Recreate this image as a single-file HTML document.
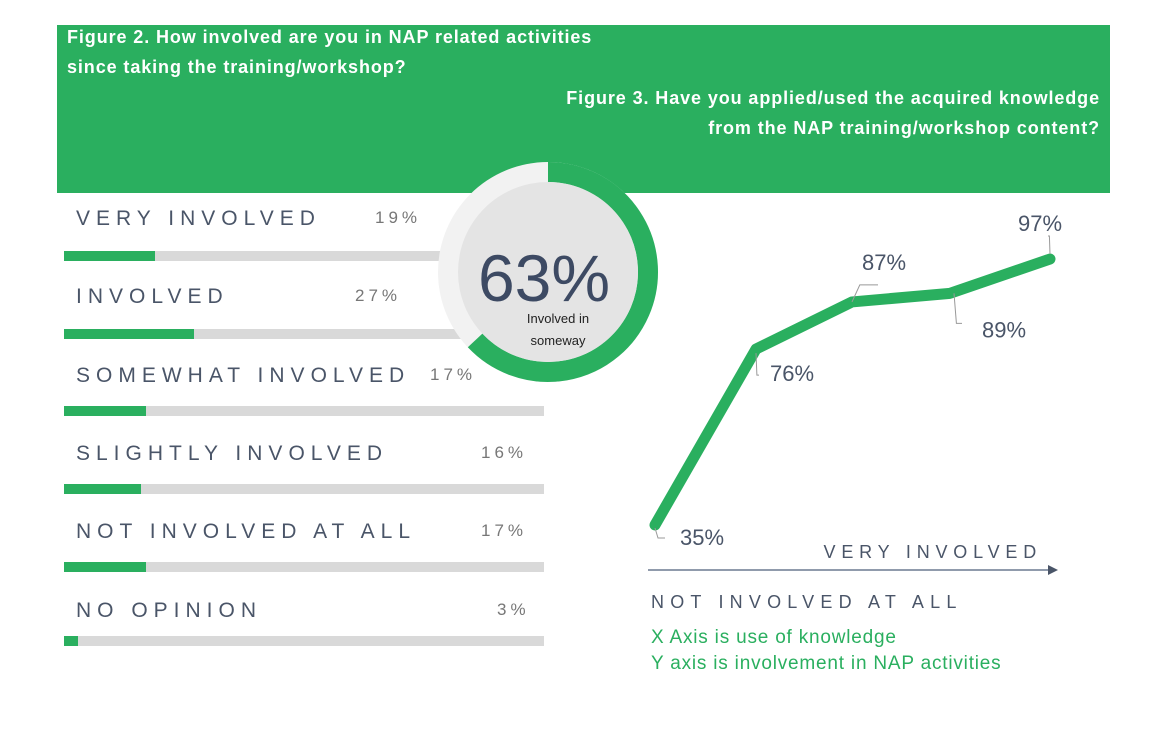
<!DOCTYPE html>
<html><head><meta charset="utf-8"><style>
body{margin:0;background:#fff;width:1170px;height:730px;overflow:hidden;position:relative;font-family:"Liberation Sans",sans-serif}
.hdr{position:absolute;left:57px;top:25px;width:1053px;height:168px;background:#2aaf5f}
.t{position:absolute;color:#fff;font-weight:bold;font-size:18px;letter-spacing:0.9px;line-height:30px}
.lab{position:absolute;left:76px;font-size:21px;letter-spacing:6px;color:#4a5568}
.pct{position:absolute;font-size:17px;letter-spacing:4px;color:#777}
.track{position:absolute;left:64px;width:480px;height:10px;background:#d9d9d9}
.fill{position:absolute;left:0;top:0;height:10px;background:#2aaf5f}
</style></head><body>
<div class="hdr"></div>
<div class="t" style="left:67px;top:22px">Figure 2. How involved are you in NAP related activities<br>since taking the training/workshop?</div>
<div class="t" style="right:70px;top:83px;text-align:right">Figure 3. Have you applied/used the acquired knowledge<br>from the NAP training/workshop content?</div>
<div id="bars"></div>
<svg width="1170" height="730" style="position:absolute;left:0;top:0" id="svg">
<circle cx="548" cy="272" r="110" fill="#f2f2f2"/>
<path id="arc" fill="none" stroke="#2aaf5f" stroke-width="20"/>
<circle cx="548" cy="272" r="90" fill="#e4e4e4"/>
<text x="544" y="301" font-size="66" fill="#3d4a63" text-anchor="middle" font-family="Liberation Sans">63%</text>
<text x="558" y="323" font-size="13" fill="#222" text-anchor="middle" font-family="Liberation Sans">Involved in</text>
<text x="558" y="345" font-size="13" fill="#222" text-anchor="middle" font-family="Liberation Sans">someway</text>
<g id="line"></g>
<line x1="648" y1="570" x2="1050" y2="570" stroke="#6b7a90" stroke-width="1.5"/>
<polygon points="1048,565 1058,570 1048,575" fill="#4a5568"/>
<text x="1042" y="558" font-size="18" letter-spacing="5.8" fill="#4a5568" text-anchor="end" font-family="Liberation Sans">VERY INVOLVED</text>
<text x="651" y="608" font-size="18" letter-spacing="6.2" fill="#4a5568" font-family="Liberation Sans">NOT INVOLVED AT ALL</text>
<text x="651" y="643" font-size="19" letter-spacing="0.8" fill="#2aaf5f" font-family="Liberation Sans">X Axis is use of knowledge</text>
<text x="651" y="669" font-size="19" letter-spacing="0.8" fill="#2aaf5f" font-family="Liberation Sans">Y axis is involvement in NAP activities</text>
</svg>
<script>
const cats=["VERY INVOLVED","INVOLVED","SOMEWHAT INVOLVED","SLIGHTLY INVOLVED","NOT INVOLVED AT ALL","NO OPINION"];
const vals=[19,27,17,16,17,3];
const donutVal=63;
const lineVals=[35,76,87,89,97];
const lineLabels=["35%","76%","87%","89%","97%"];
const labTop=[207,285,364,442,520,599], trackTop=[251,329,406,484,562,636], pctX=[375,355,430,481,481,497];
const bars=document.getElementById('bars');
cats.forEach((c,i)=>{
 const l=document.createElement('div');l.className='lab';l.style.top=labTop[i]+'px';l.textContent=c;
 
 
 bars.appendChild(l);
 const p=document.createElement('div');p.className='pct';p.style.top=(labTop[i]+1)+'px';p.style.left=pctX[i]+'px';p.textContent=vals[i]+'%';
 
 
 bars.appendChild(p);
 const t=document.createElement('div');t.className='track';t.style.top=trackTop[i]+'px';
 
 
 const f=document.createElement('div');f.className='fill';f.style.width=(vals[i]/100*480)+'px';
 
 
 t.appendChild(f);bars.appendChild(t);
});
const cx=548,cy=272,r=100,a=donutVal/100*2*Math.PI;
const ex=cx+r*Math.sin(a),ey=cy-r*Math.cos(a);
document.getElementById('arc').setAttribute('d',`M${cx} ${cy-r} A${r} ${r} 0 ${a>Math.PI?1:0} 1 ${ex} ${ey}`);
const xs=[655,756,852,950,1050];
const y=v=>525-(v-35)*4.29;
const ns='http://www.w3.org/2000/svg',g=document.getElementById('line');
const pl=document.createElementNS(ns,'polyline');
pl.setAttribute('points',lineVals.map((v,i)=>xs[i]+','+y(v)).join(' '));
pl.setAttribute('fill','none');pl.setAttribute('stroke','#2aaf5f');pl.setAttribute('stroke-width','11');pl.setAttribute('stroke-linecap','round');pl.setAttribute('stroke-linejoin','round');


g.appendChild(pl);
const off=[[25,20],[14,32],[10,-32],[32,44],[-32,-28]];
const lead=[[0,3,10,10],[0,4,3,22],[0,0,26,-17],[4,0,8,30],[0,-5,-2,-18]];
lineVals.forEach((v,i)=>{
 const ln=document.createElementNS(ns,'path');
 const x0=xs[i]+lead[i][0],y0=y(v)+lead[i][1];
 ln.setAttribute('d',`M${x0} ${y0} L${x0+lead[i][2]*0.3} ${y0+lead[i][3]} L${x0+lead[i][2]} ${y0+lead[i][3]}`);
 ln.setAttribute('stroke','#999');ln.setAttribute('fill','none');ln.setAttribute('stroke-width','1');
 
 
 g.appendChild(ln);
 const t=document.createElementNS(ns,'text');
 t.setAttribute('x',xs[i]+off[i][0]);t.setAttribute('y',y(v)+off[i][1]);
 t.setAttribute('font-size','22');t.setAttribute('fill','#4a5568');t.setAttribute('font-family','Liberation Sans');
 t.textContent=lineLabels[i];
 
 
 g.appendChild(t);
});
</script>
</body></html>
